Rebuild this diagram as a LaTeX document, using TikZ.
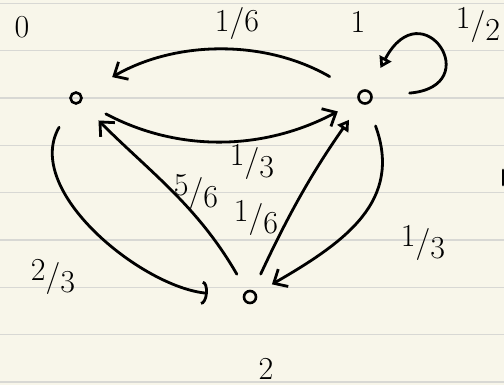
\documentclass[tikz,border=0pt]{standalone}
\usepackage{xcolor}
\usepackage{tikz}
\usetikzlibrary{arrows.meta}

\definecolor{paper}{HTML}{F8F6EA}
\definecolor{rule}{HTML}{D8D8D4}
\newcommand{\slantfrac}[2]{\raisebox{6pt}{#1}/\raisebox{-6pt}{#2}}

\begin{document}
\begin{tikzpicture}[x=1pt, y=1pt, line width=2.8pt, line cap=round,
  every node/.style={font=\fontsize{32}{36}\selectfont},
  dot/.style={draw, circle, line width=2.6pt, inner sep=0pt, minimum size=11pt},
  barb/.style={-{Straight Barb[length=11pt, width=20pt]}},
  tri/.style={-{Triangle[open, length=11pt, width=13pt]}}]
  \fill[paper] (0,0) rectangle (504,385);
  \useasboundingbox (0,0) rectangle (504,385);
  \foreach \i in {0,...,8}
    \draw[rule, line width=1.3pt] (0,381.5-47.3*\i) -- (504,381.5-47.3*\i);

  % states
  \node[dot] (s0) at (76,287) {};
  \node[dot, minimum size=13pt] (s1) at (365,288) {};
  \node[dot, minimum size=12pt] (s2) at (250,88) {};
  \node (n0) at (22,358) {0};
  \node (n1) at (358,363) {1};
  \node (n2) at (266,16) {2};

  % transition probabilities
  \node (p10) at (237,361) {1/6};
  \node (p11) at (478,360) {\slantfrac{1}{2}};
  \node (p01) at (252,223) {\slantfrac{1}{3}};
  \node (p20) at (196,193) {\slantfrac{5}{6}};
  \node (p21) at (256,167) {\slantfrac{1}{6}};
  \node (p12) at (423,142) {\slantfrac{1}{3}};
  \node (p02) at (53,108) {\slantfrac{2}{3}};

  \draw[barb, shorten <=33pt, shorten >=35pt] (s1) to[out=150, in=30] (s0);
  \draw[barb, shorten <=27pt, shorten >=23pt] (s0) to[out=-28, in=208] (s1);
  \draw[tri, shorten <=37pt, shorten >=25pt] (s1) to[out=5, in=62, min distance=115pt] (s1);
  \draw[-{Arc Barb[length=6pt, width=24pt]}, shorten <=27pt, shorten >=35pt] (s0) to[out=-120, in=175] (s2);
  \draw[barb, shorten <=19pt, shorten >=25pt] (s2) to[out=120, in=-45] (s0);
  \draw[tri, shorten <=18pt, shorten >=20pt] (s2) to[out=65, in=235] (s1);
  \draw[barb, shorten <=23pt, shorten >=18pt] (s1) to[out=-70, in=30, looseness=1.2] (s2);
  \draw (503,200) -- (503,215);
\end{tikzpicture}
\end{document}
